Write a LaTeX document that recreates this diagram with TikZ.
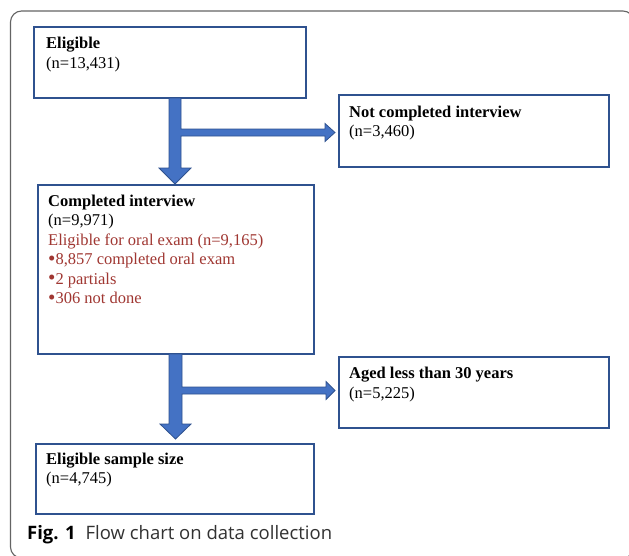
\documentclass[tikz,border=0pt]{standalone}
\usepackage{fontspec}
\setmainfont{Liberation Serif}
\newfontfamily\capfont{Open Sans}
\usetikzlibrary{calc}
\definecolor{boxedge}{HTML}{2F528F}
\definecolor{arrowfill}{HTML}{4472C4}
\definecolor{arrowedge}{HTML}{2F528F}
\definecolor{redtext}{RGB}{160,55,50}
\definecolor{framegray}{RGB}{100,100,100}
\newcommand{\mybul}{{\fontsize{21}{19.5}\selectfont\raisebox{-0.6pt}{•}}}
\tikzset{
  boxnode/.style={draw=boxedge, line width=1.2pt, fill=white, anchor=north west, inner sep=0pt, outer sep=0pt},
  txt/.style={anchor=north west, inner sep=0pt, align=left, font=\fontsize{16.5}{19.5}\selectfont},
  fatarrow/.style={fill=arrowfill, draw=arrowedge, line width=0.8pt, line join=miter}
}
\begin{document}
\begin{tikzpicture}[x=1pt,y=-1pt]
\useasboundingbox (0,0) rectangle (629,555);
\fill[white] (0,0) rectangle (629,555);
\begin{scope}
\clip (0,0) rectangle (629,555);
\draw[framegray, line width=1.1pt, rounded corners=11pt] (10.5,11) rectangle (634,558);
\end{scope}

% boxes
\node[boxnode, minimum width=272pt, minimum height=71pt] (elig) at (34,27) {};
\node[boxnode, minimum width=270pt, minimum height=72pt] (notc) at (339,95) {};
\node[boxnode, minimum width=276pt, minimum height=169pt] (comp) at (38,185) {};
\node[boxnode, minimum width=270pt, minimum height=71pt] (aged) at (339,357) {};
\node[boxnode, minimum width=278pt, minimum height=70pt] (samp) at (36,444) {};

% texts
\node[txt] (eligt) at ($(elig.north west)+(12,10)$) {\textbf{Eligible}\\(n=13,431)};
\node[txt] (notct) at ($(notc.north west)+(10,10.5)$) {\textbf{Not completed interview}\\(n=3,460)};
\node[txt] (compt) at ($(comp.north west)+(10,9.5)$) {\textbf{Completed interview}\\(n=9,971)\\
\textcolor{redtext}{Eligible for oral exam (n=9,165)}\\
\textcolor{redtext}{\mybul8,857 completed oral exam}\\
\textcolor{redtext}{\mybul2 partials}\\
\textcolor{redtext}{\mybul306 not done}};
\node[txt] (agedt) at ($(aged.north west)+(10,10)$) {\textbf{Aged less than 30 years}\\(n=5,225)};
\node[txt] (sampt) at ($(samp.north west)+(10,8.5)$) {\textbf{Eligible sample size}\\(n=4,745)};

% arrow 1: elig -> comp, branch -> notc
\coordinate (a1top) at (elig.south west -| 175,0);
\coordinate (a1tip) at (comp.north west -| 175,0);
\coordinate (b1tip) at (notc.west |- 0,132.5);
\fill[fatarrow]
  ($(a1top)+(-6,0)$) -- ($(a1top)+(6,0)$) -- (181,129) -- ($(b1tip)+(-14,-3.5)$) -- ($(b1tip)+(-14,-9)$)
  -- ($(b1tip)+(-4,0)$) -- ($(b1tip)+(-14,9)$) -- ($(b1tip)+(-14,3.5)$) -- (181,136)
  -- ($(a1tip)+(6,-17)$) -- ($(a1tip)+(16,-17)$) -- ($(a1tip)+(0,-1)$) -- ($(a1tip)+(-16,-17)$)
  -- ($(a1tip)+(-6,-17)$) -- cycle;

% arrow 2: comp -> samp, branch -> aged
\coordinate (a2top) at (comp.south west -| 175.5,0);
\coordinate (a2tip) at (samp.north west -| 175.5,0);
\coordinate (b2tip) at (aged.west |- 0,390.5);
\fill[fatarrow]
  ($(a2top)+(-6.5,0)$) -- ($(a2top)+(6.5,0)$) -- (182,387) -- ($(b2tip)+(-13,-3.5)$) -- ($(b2tip)+(-13,-9)$)
  -- ($(b2tip)+(-4,0)$) -- ($(b2tip)+(-13,9)$) -- ($(b2tip)+(-13,3.5)$) -- (182,394)
  -- ($(a2tip)+(6.5,-20)$) -- ($(a2tip)+(15.5,-20)$) -- ($(a2tip)+(0,-5)$) -- ($(a2tip)+(-15.5,-20)$)
  -- ($(a2tip)+(-6.5,-20)$) -- cycle;

% caption
\node[anchor=base west, inner sep=0pt, font=\capfont\fontsize{18.5}{20}\selectfont] (cap) at (27,539)
  {\textbf{Fig. 1}\hspace{10pt}{\color[RGB]{50,50,50}Flow chart on data collection}};
\end{tikzpicture}
\end{document}
